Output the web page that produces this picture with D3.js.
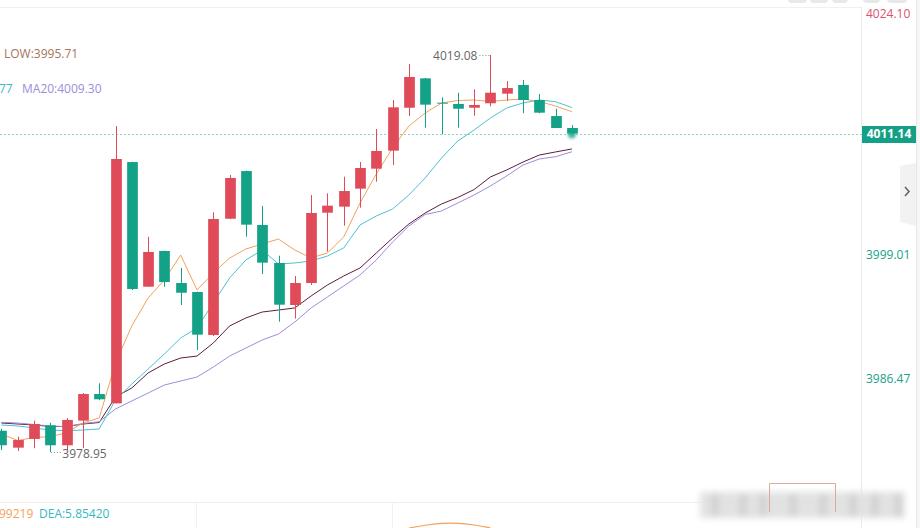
<html>
<head>
    <title>K line</title>
    <script src="https://d3js.org/d3.v7.min.js"></script>
    <style>
      body { margin: 0; background: #fff; overflow: hidden; }
      text { font-family: "Open Sans", "Noto Sans", sans-serif; }
    </style>
</head>
<body>
<script>

// candle data
var openV  = [3981.10, 3979.39, 3980.27, 3981.65, 3979.63, 3982.12, 3984.81, 3983.87, 4008.26, 3995.66, 3999.27, 3996.03, 3995.12, 3990.78, 4002.53, 4007.35, 4001.90, 3998.06, 3993.81, 3996.03, 4003.14, 4003.75, 4005.57, 4007.59, 4009.41, 4013.75, 4016.72, 4014.26, 4014.13, 4013.75, 4014.20, 4015.17, 4016.05, 4014.53, 4012.91, 4011.70];
var closeV = [3979.63, 3980.16, 3981.78, 3979.63, 3982.19, 3984.81, 3984.28, 4008.57, 3995.43, 3999.17, 3996.13, 3995.05, 3990.81, 4002.50, 4006.65, 4001.93, 3998.09, 3993.84, 3996.03, 4003.11, 4003.85, 4005.33, 4007.66, 4009.38, 4013.79, 4016.86, 4014.06, 4014.20, 4013.65, 4014.03, 4015.27, 4015.74, 4014.53, 4013.25, 4011.70, 4011.14];
var highV  = [3981.28, 3980.50, 3982.12, 3981.91, 3982.39, 3984.91, 3985.90, 4011.90, 4008.30, 4000.71, 3999.30, 3997.55, 3995.15, 4003.18, 4006.95, 4007.40, 4003.82, 3998.79, 3996.74, 4004.93, 4005.10, 4006.78, 4008.26, 4011.60, 4014.53, 4018.17, 4016.75, 4014.80, 4015.27, 4015.61, 4019.08, 4016.45, 4016.55, 4015.14, 4013.65, 4012.00];
var lowV   = [3979.15, 3979.05, 3979.33, 3978.95, 3979.15, 3979.33, 3984.20, 3983.85, 3995.33, 3995.63, 3995.66, 3993.81, 3989.26, 3990.68, 4002.50, 4000.71, 3996.94, 3992.12, 3992.43, 3995.83, 3999.20, 4001.83, 4003.65, 4006.27, 4007.96, 4012.91, 4011.73, 4011.06, 4011.73, 4012.94, 4013.89, 4014.43, 4013.19, 4013.19, 4011.70, 4011.14];

// moving averages
var ma5  = [3980.77, 3980.11, 3980.42, 3980.50, 3980.90, 3981.88, 3982.39, 3987.95, 3991.69, 3994.52, 3996.34, 3998.86, 3995.33, 3997.04, 3998.56, 3999.47, 3999.98, 4000.48, 3999.37, 3998.56, 3999.07, 4000.68, 4004.12, 4007.05, 4009.68, 4011.90, 4013.22, 4014.23, 4014.48, 4014.53, 4014.38, 4014.53, 4014.63, 4014.38, 4013.92, 4013.35];
var ma10 = [3981.68, 3981.58, 3981.38, 3981.17, 3981.10, 3981.17, 3981.28, 3984.21, 3985.82, 3987.34, 3988.86, 3990.47, 3991.49, 3994.01, 3996.54, 3998.36, 3999.37, 3997.95, 3998.06, 3998.26, 3998.76, 3999.57, 4001.90, 4002.81, 4003.51, 4004.93, 4006.65, 4008.67, 4010.39, 4011.50, 4012.71, 4013.72, 4014.23, 4014.53, 4014.36, 4013.77];
var ma20 = [3981.95, 3981.88, 3981.73, 3981.58, 3981.51, 3981.83, 3982.01, 3983.30, 3984.11, 3984.91, 3985.72, 3986.13, 3986.53, 3987.54, 3988.65, 3989.46, 3990.27, 3990.88, 3992.09, 3993.51, 3994.62, 3995.73, 3996.84, 3998.36, 4000.18, 4001.80, 4002.96, 4003.31, 4004.12, 4004.93, 4005.84, 4006.85, 4007.96, 4008.57, 4008.80, 4009.30];
var ma30 = [3981.88, 3981.78, 3981.68, 3981.53, 3981.53, 3981.78, 3981.93, 3984.51, 3985.42, 3986.94, 3987.85, 3988.45, 3988.65, 3989.97, 3991.69, 3992.50, 3993.10, 3993.30, 3993.51, 3994.72, 3995.83, 3996.74, 3997.55, 3999.07, 4000.58, 4002.00, 4003.11, 4004.02, 4004.68, 4005.48, 4006.75, 4007.46, 4008.26, 4008.97, 4009.28, 4009.58];

// right axis labels
var axisTicks = [4024.10, 3999.01, 3986.47];
var lastPrice = 4011.14;

// macd panel (only a bit of DIF is visible)
var difIdx  = [25, 26, 27, 28, 29, 30];
var difVals = [5.2, 5.85, 6.25, 6.3, 5.9, 5.25];

var width = 920, height = 528;
var red = "#e04b5a", green = "#13a287";

var svg = d3.select("body").append("svg")
            .attr("width", width)
            .attr("height", height);

var defs = svg.append("defs");
defs.append("clipPath").attr("id", "plot")
    .append("rect").attr("x", 0).attr("y", 8).attr("width", 862).attr("height", 494);
defs.append("filter").attr("id", "blur").attr("x", "-20%").attr("y", "-50%").attr("width", "140%").attr("height", "200%")
    .append("feGaussianBlur").attr("stdDeviation", 3);
defs.append("filter").attr("id", "glow").attr("x", "-100%").attr("y", "-100%").attr("width", "300%").attr("height", "300%")
    .append("feGaussianBlur").attr("stdDeviation", 1.6);

var x = d3.scaleLinear().domain([0, 35]).range([1.4, 571.9]);
var y = d3.scaleLinear().domain([3978.95, 4019.08]).range([452, 55]);
var candleW = 10.7;

// frame lines
svg.append("line").attr("x1", 0).attr("x2", 862).attr("y1", 7.5).attr("y2", 7.5).attr("stroke", "#f0f0f0");
svg.append("line").attr("x1", 861.5).attr("x2", 861.5).attr("y1", 7).attr("y2", height).attr("stroke", "#ebebeb");
svg.append("line").attr("x1", 916.5).attr("x2", 916.5).attr("y1", 0).attr("y2", height).attr("stroke", "#e6e6e6");
svg.append("rect").attr("x", 917).attr("y", 0).attr("width", 3).attr("height", height).attr("fill", "#f7f7f7");
svg.append("line").attr("x1", 0).attr("x2", 862).attr("y1", 502.5).attr("y2", 502.5).attr("stroke", "#efefef");
svg.append("line").attr("x1", 196.5).attr("x2", 196.5).attr("y1", 503).attr("y2", height).attr("stroke", "#f0f0f0");
svg.append("line").attr("x1", 392.5).attr("x2", 392.5).attr("y1", 503).attr("y2", height).attr("stroke", "#f0f0f0");

// toolbar buttons peeking at the top
var btns = [[788, 19], [810, 18], [832, 16], [863, 17], [887, 20]];
svg.selectAll("rect.btn").data(btns).enter().append("rect")
   .attr("class", "btn")
   .attr("x", function(d){ return d[0]; }).attr("y", -8)
   .attr("width", function(d){ return d[1]; }).attr("height", 11)
   .attr("rx", 4).attr("fill", "#e8e8e8");

var plot = svg.append("g").attr("clip-path", "url(#plot)");

// last price dashed line
plot.append("line")
    .attr("x1", 0).attr("x2", 862)
    .attr("y1", Math.round(y(lastPrice)) + 0.5).attr("y2", Math.round(y(lastPrice)) + 0.5)
    .attr("stroke", "#8fd3c6").attr("stroke-dasharray", "2,2");

// MA lines
var mas = [[ma30, "#5b1f3c"], [ma20, "#9d8ddb"], [ma10, "#4cc3cf"], [ma5, "#f2a25c"]];
mas.forEach(function(m) {
  var line = d3.line().x(function(d, i){ return x(i); }).y(function(d){ return y(d); });
  plot.append("path").attr("d", line(m[0]))
      .attr("fill", "none").attr("stroke", m[1]).attr("stroke-width", 1);
});

// candles
var idx = d3.range(openV.length);
var colorOf = function(i){ return closeV[i] >= openV[i] ? red : green; };

plot.selectAll("line.wick").data(idx).enter().append("line")
    .attr("class", "wick")
    .attr("x1", function(i){ return Math.round(x(i)) + 0.5; })
    .attr("x2", function(i){ return Math.round(x(i)) + 0.5; })
    .attr("y1", function(i){ return y(highV[i]); })
    .attr("y2", function(i){ return y(lowV[i]); })
    .attr("stroke", colorOf);

plot.selectAll("rect.body").data(idx).enter().append("rect")
    .attr("class", "body")
    .attr("x", function(i){ return Math.round(x(i)) + 0.5 - candleW / 2; })
    .attr("width", candleW)
    .attr("y", function(i){ return y(Math.max(openV[i], closeV[i])); })
    .attr("height", function(i){ return Math.max(1, Math.abs(y(openV[i]) - y(closeV[i]))); })
    .attr("fill", colorOf);

// glow on the last candle
plot.append("circle").attr("cx", x(35)).attr("cy", y(lastPrice) + 1).attr("r", 4)
    .attr("fill", green).attr("opacity", 0.8).attr("filter", "url(#glow)");

// max / min markers
var iMax = highV.indexOf(d3.max(highV)), iMin = lowV.indexOf(d3.min(lowV));
plot.append("line").attr("x1", x(iMax) - 11).attr("x2", x(iMax) + 0.5)
    .attr("y1", y(highV[iMax]) + 0.5).attr("y2", y(highV[iMax]) + 0.5)
    .attr("stroke", "#888").attr("stroke-dasharray", "1,2");
plot.append("text").attr("x", x(iMax) - 13).attr("y", y(highV[iMax]) + 2)
    .attr("text-anchor", "end").attr("dominant-baseline", "middle")
    .attr("font-size", 12).attr("fill", "#666").text(highV[iMax].toFixed(2));
plot.append("line").attr("x1", x(iMin) + 0.5).attr("x2", x(iMin) + 11)
    .attr("y1", y(lowV[iMin]) + 0.5).attr("y2", y(lowV[iMin]) + 0.5)
    .attr("stroke", "#888").attr("stroke-dasharray", "1,2");
plot.append("text").attr("x", x(iMin) + 12).attr("y", y(lowV[iMin]) + 3)
    .attr("dominant-baseline", "middle")
    .attr("font-size", 12).attr("fill", "#666").text(lowV[iMin].toFixed(2));

// legend texts
svg.append("text").attr("x", 4).attr("y", 55).attr("dominant-baseline", "middle")
   .attr("font-size", 12).attr("fill", "#a8735a").text("LOW:3995.71");
svg.append("text").attr("x", -1).attr("y", 90).attr("dominant-baseline", "middle")
   .attr("font-size", 12).attr("fill", "#36b7c4").text("77");
svg.append("text").attr("x", 22).attr("y", 90).attr("dominant-baseline", "middle")
   .attr("font-size", 12).attr("fill", "#9d8ddb").text("MA20:" + ma20[35].toFixed(2));
svg.append("text").attr("x", -1).attr("y", 515).attr("dominant-baseline", "middle")
   .attr("font-size", 12).attr("fill", "#f2a25c").text("99219");
svg.append("text").attr("x", 39).attr("y", 515).attr("dominant-baseline", "middle")
   .attr("font-size", 12).attr("fill", "#36b7c4").text("DEA:5.85420");

// right axis labels
svg.selectAll("text.tick").data(axisTicks).enter().append("text")
   .attr("class", "tick")
   .attr("x", 866)
   .attr("y", function(d){ return Math.max(15, y(d) + 2); })
   .attr("dominant-baseline", "middle")
   .attr("font-size", 12)
   .attr("fill", function(d, i){ return i == 0 ? "#d9536a" : "#1a9f88"; })
   .text(function(d){ return d.toFixed(2); });

// last price tag
svg.append("rect").attr("x", 862).attr("y", Math.round(y(lastPrice)) - 8)
   .attr("width", 54).attr("height", 17).attr("fill", "#14a086");
svg.append("text").attr("x", 889).attr("y", y(lastPrice) + 1)
   .attr("text-anchor", "middle").attr("dominant-baseline", "middle")
   .attr("font-size", 12).attr("font-weight", "bold").attr("fill", "#fff")
   .text(lastPrice.toFixed(2));

// side tab with arrow
svg.append("path").attr("d", "M900,166 L916,163 L916,226 L900,222 Z").attr("fill", "#f2f2f2");
svg.append("path").attr("d", "M905,187 L909,191.5 L905,196").attr("fill", "none")
   .attr("stroke", "#666").attr("stroke-width", 1.6);

// macd dif piece
var yLow = d3.scaleLinear().domain([5.0, 6.5]).range([529, 522]);
svg.append("path")
   .attr("d", d3.line().curve(d3.curveBasis)
        .x(function(d, i){ return x(difIdx[i]); })
        .y(function(d){ return yLow(d); })(difVals))
   .attr("fill", "none").attr("stroke", "#f2a25c").attr("stroke-width", 1.2);

// blurred watermark bottom right
var wm = svg.append("g").attr("filter", "url(#blur)");
wm.append("rect").attr("x", 700).attr("y", 492).attr("width", 205).attr("height", 26).attr("fill", "#e2e2e2");
[712, 740, 760, 790, 820, 850, 872, 895].forEach(function(px){
  wm.append("rect").attr("x", px).attr("y", 494).attr("width", 6).attr("height", 22).attr("fill", "#cfcfcf");
});
svg.append("path").attr("d", "M769.5,512 L769.5,483.5 L835.5,483.5 L835.5,512")
   .attr("fill", "none").attr("stroke", "#dba99d").attr("stroke-width", 1);

</script>
</body>
</html>
